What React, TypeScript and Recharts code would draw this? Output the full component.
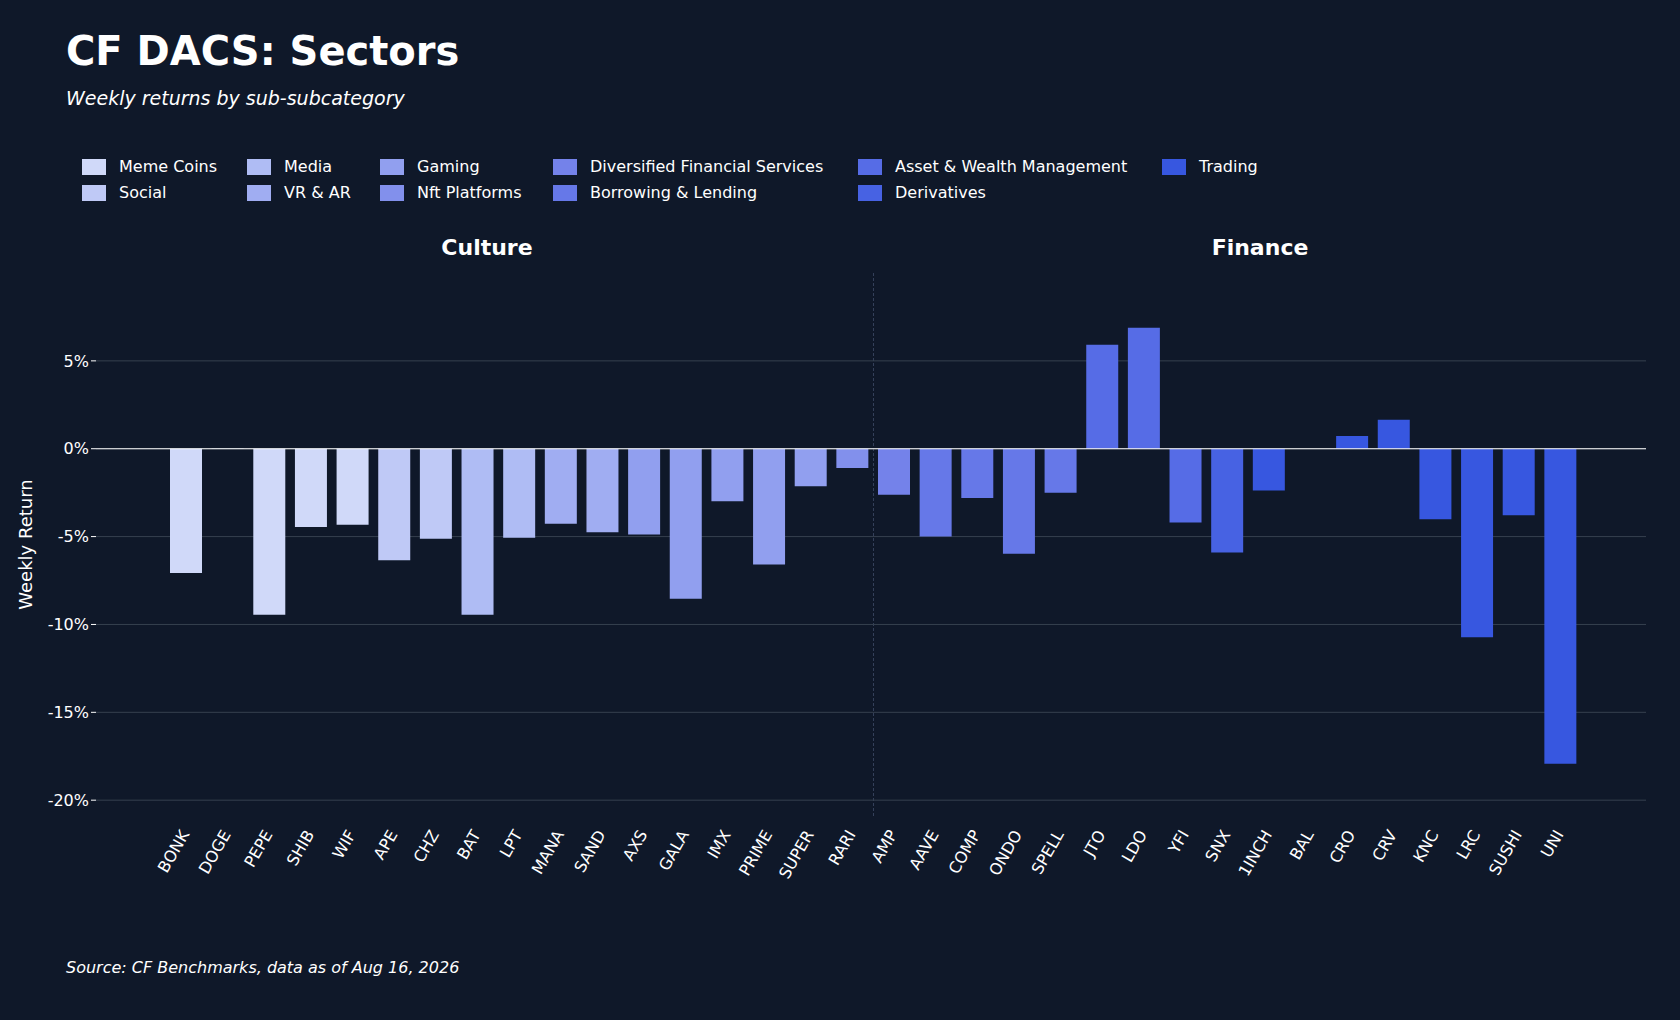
import React from "react";
import { BarChart, Bar, XAxis, YAxis, CartesianGrid, ReferenceLine, Cell } from "recharts";

const coins = ["BONK","DOGE","PEPE","SHIB","WIF","APE","CHZ","BAT","LPT","MANA","SAND","AXS","GALA","IMX","PRIME","SUPER","RARI","AMP","AAVE","COMP","ONDO","SPELL","JTO","LDO","YFI","SNX","1INCH","BAL","CRO","CRV","KNC","LRC","SUSHI","UNI"];
const returns = [-7.07,-0.02,-9.45,-4.45,-4.33,-6.34,-5.12,-9.45,-5.06,-4.27,-4.76,-4.88,-8.54,-2.99,-6.59,-2.13,-1.1,-2.62,-5.0,-2.8,-5.98,-2.5,5.91,6.89,-4.2,-5.91,-2.38,0,0.73,1.65,-4.02,-10.73,-3.78,-17.93];
const subcats = ["Meme Coins","Meme Coins","Meme Coins","Meme Coins","Meme Coins","Social","Social","Media","Media","VR & AR","VR & AR","Gaming","Gaming","Gaming","Gaming","Gaming","Nft Platforms","Diversified Financial Services","Borrowing & Lending","Borrowing & Lending","Borrowing & Lending","Borrowing & Lending","Asset & Wealth Management","Asset & Wealth Management","Asset & Wealth Management","Derivatives","Trading","Trading","Trading","Trading","Trading","Trading","Trading","Trading"];
const legendNames = ["Meme Coins","Social","Media","VR & AR","Gaming","Nft Platforms","Diversified Financial Services","Borrowing & Lending","Asset & Wealth Management","Derivatives","Trading"];
const legendColors = ["#d0d9f9","#bfc9f6","#afbcf4","#a0adf2","#919fef","#8290ec","#7482ea","#6678e8","#566ce6","#4762e3","#3757e0"];
const yTicks = [5,0,-5,-10,-15,-20];

const data = coins.map((c, i) => ({ name: c, value: returns[i], sub: subcats[i] }));
const colorOf = (s: string) => legendColors[legendNames.indexOf(s)];

const font = "'DejaVu Sans', sans-serif";

const XTick = (props: any) => {
  const { x, y, payload } = props;
  return (
    <text x={x} y={y + 8} transform={`rotate(-60 ${x} ${y + 8})`} textAnchor="end" dominantBaseline="middle" fill="#ffffff" fontSize={16} fontFamily={font}>
      {payload.value}
    </text>
  );
};

export default function App() {
  const legendCols = [82, 247, 380, 553, 858, 1162];
  return (
    <div style={{ position: "fixed", left: 0, top: 0, width: 1680, height: 1020, background: "#0f1829", fontFamily: font, color: "#fff", overflow: "hidden" }}>
      <div style={{ position: "absolute", left: 66, top: 28, fontSize: 40, fontWeight: "bold" }}>CF DACS: Sectors</div>
      <div style={{ position: "absolute", left: 66, top: 87, fontSize: 19, fontStyle: "italic" }}>Weekly returns by sub-subcategory</div>
      {legendNames.map((n, i) => {
        const col = Math.floor(i / 2);
        const row = i % 2;
        return (
          <div key={n} style={{ position: "absolute", left: legendCols[col], top: 157 + row * 26, display: "flex", alignItems: "center", fontSize: 16 }}>
            <div style={{ width: 24, height: 16, background: legendColors[i], marginRight: 13 }} />
            <span>{n}</span>
          </div>
        );
      })}
      <div style={{ position: "absolute", left: 387, width: 200, textAlign: "center", top: 235, fontSize: 22, fontWeight: "bold" }}>Culture</div>
      <div style={{ position: "absolute", left: 1160, width: 200, textAlign: "center", top: 235, fontSize: 22, fontWeight: "bold" }}>Finance</div>
      <div style={{ position: "absolute", left: 873, top: 273, height: 543, borderLeft: "1px dashed #34405a" }} />
      <div style={{ position: "absolute", left: 0, top: 0 }}>
        <BarChart width={1680} height={1020} data={data} margin={{ top: 273, right: 34, bottom: 124, left: 36 }} barCategoryGap={5}>
          <CartesianGrid vertical={false} stroke="#36404f" strokeWidth={1} horizontalValues={yTicks} />
          <XAxis dataKey="name" interval={0} tick={<XTick />} tickLine={false} axisLine={false} height={80} padding={{ left: 69, right: 65 }} />
          <YAxis domain={[-20.9, 10]} ticks={yTicks} tickFormatter={(v: number) => `${v}%`} tick={{ fill: "#ffffff", fontSize: 16, fontFamily: font }} tickLine={{ stroke: "#ffffff" }} tickSize={5} axisLine={false} width={60}
            label={{ value: "Weekly Return", angle: -90, position: "insideLeft", offset: -10, fill: "#ffffff", fontSize: 18, fontFamily: font, style: { textAnchor: "middle" } }} />
          <ReferenceLine y={0} stroke="#ffffff" strokeWidth={1.2} />
          <Bar dataKey="value" isAnimationActive={false} barSize={32}>
            {data.map((d, i) => (
              <Cell key={i} fill={colorOf(d.sub)} />
            ))}
          </Bar>
        </BarChart>
      </div>
      <div style={{ position: "absolute", left: 66, top: 958, fontSize: 16, fontStyle: "italic" }}>Source: CF Benchmarks, data as of Aug 16, 2026</div>
    </div>
  );
}
